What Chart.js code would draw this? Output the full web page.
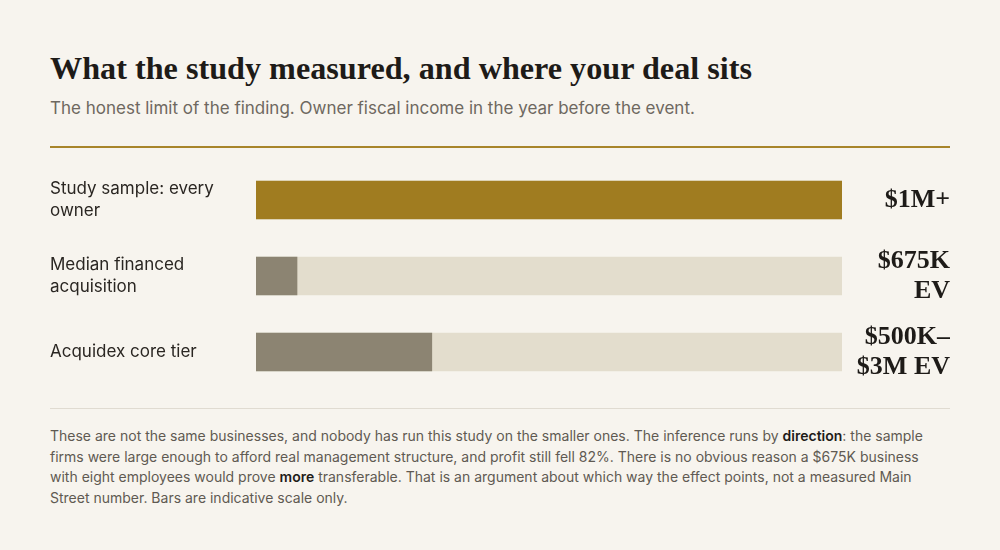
<!DOCTYPE html>
<html>
<head>
<meta charset="utf-8">
<script src="https://cdn.jsdelivr.net/npm/chart.js@4/dist/chart.umd.min.js"></script>
<style>
  html, body { margin: 0; padding: 0; }
  body { width: 1000px; height: 550px; background: #f7f4ee; position: relative; overflow: hidden; font-family: Inter, "Noto Sans", sans-serif; }
  .title { position: absolute; left: 50px; top: 52px; font-family: "Liberation Serif", serif; font-weight: 700; font-size: 32.2px; line-height: 32px; color: #1e1b18; white-space: nowrap; }
  .sub { position: absolute; left: 50px; top: 98px; font-size: 17px; line-height: 20px; color: #6e6860; white-space: nowrap; }
  .rule { position: absolute; left: 50px; width: 900px; top: 146px; height: 2px; background: #a8852a; }
  .rule2 { position: absolute; left: 50px; width: 900px; top: 408px; height: 1px; background: #e0dbd1; }
  .foot { position: absolute; left: 50px; top: 426px; width: 900px; font-size: 14px; line-height: 20.7px; color: #5f5a52; white-space: nowrap; }
  .foot b { color: #1f1c19; font-weight: 600; }
  .wrap { position: absolute; left: 0; top: 150px; width: 1000px; height: 250px; }
</style>
</head>
<body>
<div class="title">What the study measured, and where your deal sits</div>
<div class="sub">The honest limit of the finding. Owner fiscal income in the year before the event.</div>
<div class="rule"></div>
<div class="wrap"><canvas id="c"></canvas></div>
<div class="rule2"></div>
<div class="foot">These are not the same businesses, and nobody has run this study on the smaller ones. The inference runs by <b>direction</b>: the sample<br>firms were large enough to afford real management structure, and profit still fell 82%. There is no obvious reason a $675K business<br>with eight employees would prove <b>more</b> transferable. That is an argument about which way the effect points, not a measured Main<br>Street number. Bars are indicative scale only.</div>
<script>
const rowLabels = [["Study sample: every", "owner"], ["Median financed", "acquisition"], ["Acquidex core tier"]];
const valueLabels = [["$1M+"], ["$675K", "EV"], ["$500K\u2013", "$3M EV"]];
const scaleValues = [100, 7, 30];
const trackValues = [100, 100, 100];
const barColors = ["#a07c20", "#8c8472", "#8c8472"];

function fixAxis(width) {
  return (s) => { s.width = width; s.paddingTop = 0; s.paddingBottom = 0; };
}

new Chart(document.getElementById('c'), {
  type: 'bar',
  data: {
    labels: rowLabels,
    datasets: [
      { data: scaleValues, backgroundColor: barColors, barThickness: 38, grouped: false, order: 0, yAxisID: 'y' },
      { data: trackValues, backgroundColor: "#e3ddcd", barThickness: 38, grouped: false, order: 1, yAxisID: 'y' }
    ]
  },
  options: {
    indexAxis: 'y',
    responsive: true,
    maintainAspectRatio: false,
    animation: false,
    layout: { padding: { left: 50, right: 50, top: 12, bottom: 10 } },
    plugins: { legend: { display: false }, tooltip: { enabled: false } },
    scales: {
      x: { min: 0, max: 100, display: false },
      y: {
        type: 'category', position: 'left', offset: true,
        grid: { display: false }, border: { display: false },
        ticks: { crossAlign: 'far', color: '#2a2622', font: { family: 'Inter', size: 17, lineHeight: 1.3 }, padding: 0 },
        afterFit: fixAxis(206)
      },
      y2: {
        type: 'category', position: 'right', offset: true, labels: valueLabels,
        grid: { display: false }, border: { display: false },
        ticks: { crossAlign: 'far', color: '#1e1b18', font: { family: 'Liberation Serif', size: 26, weight: 'bold', lineHeight: 1.15 }, padding: 0 },
        afterFit: fixAxis(108)
      }
    }
  }
});
</script>
</body>
</html>
